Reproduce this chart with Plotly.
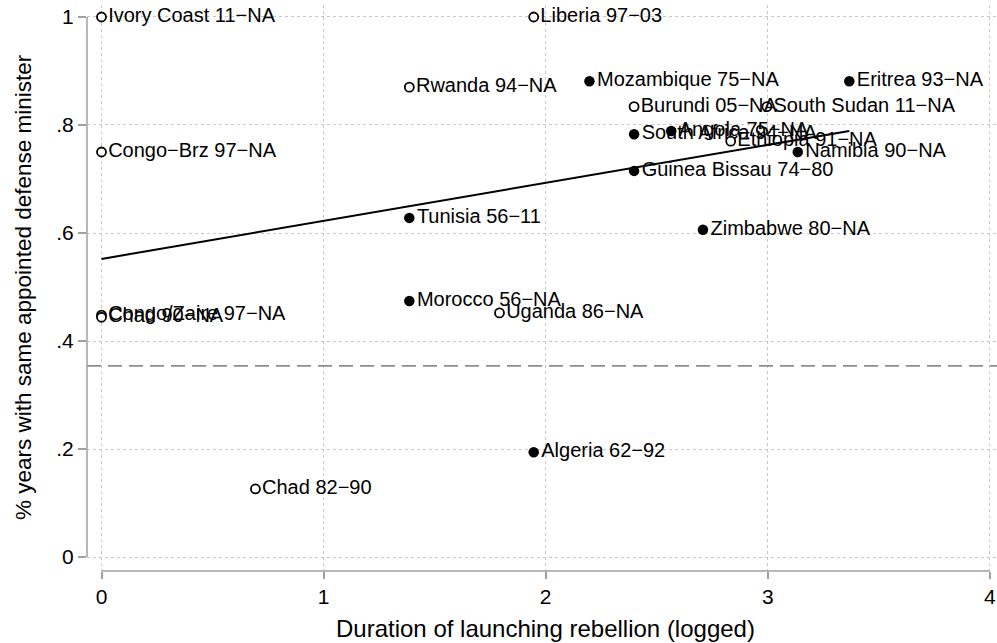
import plotly.graph_objects as go

# ---- data ----
labels = ["Ivory Coast 11−NA", "Liberia 97−03", "Rwanda 94−NA", "Mozambique 75−NA",
          "Eritrea 93−NA", "Burundi 05−NA", "South Sudan 11−NA", "South Africa 94−NA",
          "Angola 75−NA", "Ethiopia 91−NA", "Namibia 90−NA", "Congo−Brz 97−NA",
          "Guinea Bissau 74−80", "Tunisia 56−11", "Zimbabwe 80−NA", "Morocco 56−NA",
          "Uganda 86−NA", "Congo/Zaire 97−NA", "Chad 90−NA", "Algeria 62−92", "Chad 82−90"]
duration_log = [0.0, 1.946, 1.386, 2.197, 3.367, 2.398, 2.996, 2.398,
                2.565, 2.833, 3.135, 0.0, 2.398, 1.386, 2.708, 1.386,
                1.792, 0.0, 0.0, 1.946, 0.693]
share_same = [1.0, 1.0, 0.870, 0.881, 0.881, 0.834, 0.834, 0.783,
              0.789, 0.770, 0.750, 0.750, 0.715, 0.628, 0.606, 0.474,
              0.452, 0.448, 0.444, 0.194, 0.126]
filled = [0, 0, 0, 1, 1, 0, 0, 1, 1, 0, 1, 0, 1, 1, 1, 1, 0, 0, 0, 1, 0]

fit_x = [0.0, 3.367]
fit_y = [0.552, 0.789]
ref_line_y = 0.354

x_ticks = [0, 1, 2, 3, 4]
x_tick_text = ["0", "1", "2", "3", "4"]
y_ticks = [0, 0.2, 0.4, 0.6, 0.8, 1.0]
y_tick_text = ["0", ".2", ".4", ".6", ".8", "1"]

FONT = "Liberation Sans, Arial, Helvetica, sans-serif"
AXIS_GREY = "#a0a0a0"

fig = go.Figure()

for flag in (1, 0):
    xs = [x for x, f in zip(duration_log, filled) if f == flag]
    ys = [y for y, f in zip(share_same, filled) if f == flag]
    ts = [t for t, f in zip(labels, filled) if f == flag]
    fig.add_trace(go.Scatter(
        x=xs, y=ys, text=ts, mode="markers+text",
        textposition="middle right",
        textfont=dict(family=FONT, size=20, color="black"),
        marker=dict(size=10.5 if flag else 9,
                    color="black" if flag else "white",
                    line=dict(color="black", width=0 if flag else 1.8)),
        cliponaxis=False, showlegend=False, hoverinfo="skip"))

fig.add_trace(go.Scatter(x=fit_x, y=fit_y, mode="lines",
                         line=dict(color="black", width=2),
                         showlegend=False, hoverinfo="skip"))

# reference dashed line
fig.add_shape(type="line", xref="paper", yref="y", x0=0, x1=1,
              y0=ref_line_y, y1=ref_line_y,
              line=dict(color="#8c8c8c", width=1.8, dash="14px,7px"))
# axis lines spanning tick range only
fig.add_shape(type="line", xref="x", yref="paper", x0=0, x1=4, y0=0, y1=0,
              line=dict(color=AXIS_GREY, width=1.5))
fig.add_shape(type="line", xref="paper", yref="y", x0=0, x1=0, y0=0, y1=1,
              line=dict(color=AXIS_GREY, width=1.5))

# axis titles
fig.add_annotation(text="Duration of launching rebellion (logged)",
                   xref="x", yref="paper", x=2, y=0, yshift=-57,
                   xanchor="center", yanchor="middle", showarrow=False,
                   font=dict(family=FONT, size=24, color="black"))
fig.add_annotation(text="% years with same appointed defense minister",
                   xref="paper", yref="y", x=0, y=0.5, xshift=-64,
                   xanchor="center", yanchor="middle", textangle=-90,
                   showarrow=False,
                   font=dict(family=FONT, size=22.5, color="black"))

fig.update_layout(
    width=997, height=643,
    margin=dict(l=87, r=0, t=5, b=72, autoexpand=False),
    paper_bgcolor="white", plot_bgcolor="white",
    font=dict(family=FONT, color="black"),
    xaxis=dict(range=[-0.0653, 4.032], tickvals=x_ticks,
               ticktext=x_tick_text, ticks="outside", ticklen=7,
               tickcolor=AXIS_GREY, tickwidth=1.5, automargin=False,
               ticklabeloverflow="allow",
               showgrid=True, gridcolor="#c8c8c8", griddash="dot", gridwidth=1,
               zeroline=False, showline=False,
               tickfont=dict(size=21, family=FONT)),
    yaxis=dict(range=[-0.0259, 1.0222], tickvals=y_ticks, ticktext=y_tick_text,
               ticks="outside", ticklen=8, tickcolor=AXIS_GREY, tickwidth=1.5,
               automargin=False, ticklabeloverflow="allow",
               showgrid=True, gridcolor="#c8c8c8", griddash="dot", gridwidth=1,
               zeroline=False, showline=False,
               tickfont=dict(size=21, family=FONT)),
)

# remove the browser's default 8px page margin so the figure fills the window
fig.write_html("out.html",
               config={"displayModeBar": False},
               post_script="document.body.style.margin='0px';"
                           "document.body.style.overflow='hidden';")
